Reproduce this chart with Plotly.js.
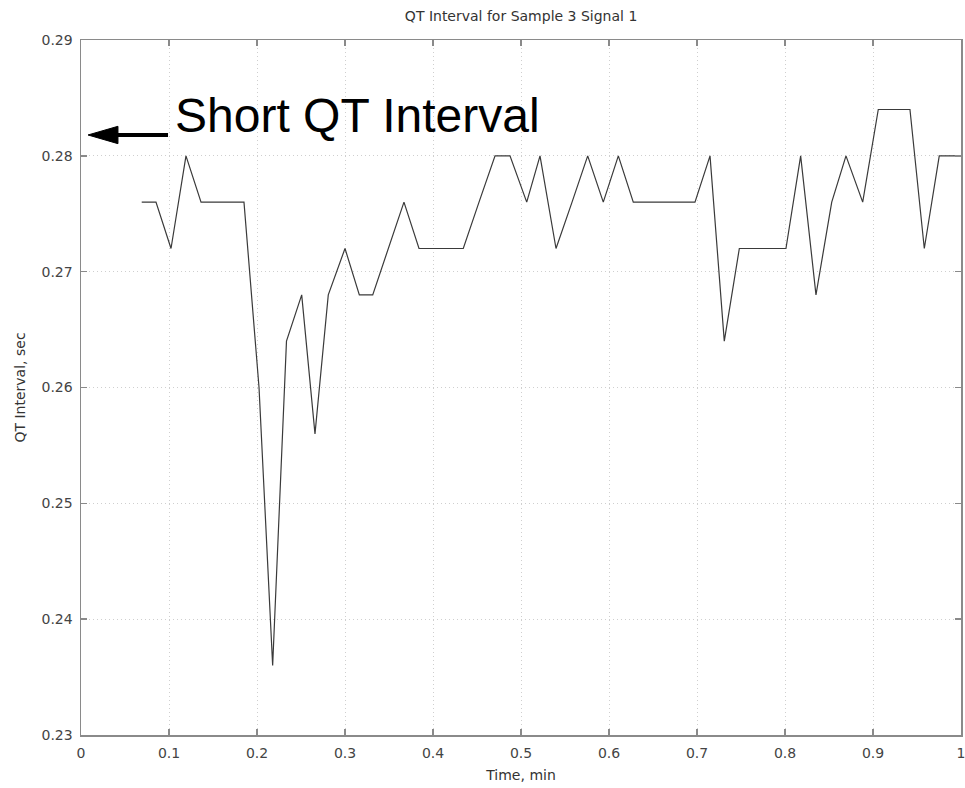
<!DOCTYPE html>
<html>
<head>
<meta charset="utf-8">
<script src="https://cdn.plot.ly/plotly-3.0.1.min.js"></script>
<style>html,body{margin:0;padding:0;background:#fff;}#chart{width:965px;height:788px;}</style>
</head>
<body>
<div id="chart"></div>
<script>
// Time, min
var timeMin = [0.0690, 0.0852, 0.1023, 0.1193, 0.1364, 0.1523, 0.1693, 0.1852, 0.2023, 0.2178,
  0.2335, 0.2508, 0.2659, 0.2810, 0.3000, 0.3163, 0.3315, 0.3489, 0.3670, 0.3841,
  0.4011, 0.4182, 0.4344, 0.4523, 0.4705, 0.4875, 0.5065, 0.5216, 0.5398, 0.5580,
  0.5758, 0.5935, 0.6106, 0.6276, 0.6443, 0.6625, 0.6795, 0.6977, 0.7148, 0.7310,
  0.7481, 0.7659, 0.7830, 0.8011, 0.8178, 0.8352, 0.8531, 0.8693, 0.8883, 0.9060,
  0.9239, 0.9420, 0.9583, 0.9753, 1.0000];
// QT interval, sec
var qtSec = [0.276, 0.276, 0.272, 0.280, 0.276, 0.276, 0.276, 0.276, 0.260, 0.236,
  0.264, 0.268, 0.256, 0.268, 0.272, 0.268, 0.268, 0.272, 0.276, 0.272,
  0.272, 0.272, 0.272, 0.276, 0.280, 0.280, 0.276, 0.280, 0.272, 0.276,
  0.280, 0.276, 0.280, 0.276, 0.276, 0.276, 0.276, 0.276, 0.280, 0.264,
  0.272, 0.272, 0.272, 0.272, 0.280, 0.268, 0.276, 0.280, 0.276, 0.284,
  0.284, 0.284, 0.272, 0.280, 0.280];
var xTicks = [0, 0.1, 0.2, 0.3, 0.4, 0.5, 0.6, 0.7, 0.8, 0.9, 1];
var xTickText = ['0', '0.1', '0.2', '0.3', '0.4', '0.5', '0.6', '0.7', '0.8', '0.9', '1'];
var yTicks = [0.23, 0.24, 0.25, 0.26, 0.27, 0.28, 0.29];
var yTickText = ['0.23', '0.24', '0.25', '0.26', '0.27', '0.28', '0.29'];

var smallFont = 'DejaVu Sans, sans-serif';
var bigFont = 'Liberation Sans, Arial, sans-serif';
var axisCommon = {
  showline: true, mirror: 'ticks', linecolor: '#8a8a8a', linewidth: 1.5,
  ticks: 'inside', ticklen: 6, tickcolor: '#8a8a8a', tickwidth: 1.5,
  showgrid: true, gridcolor: '#cfcfcf', griddash: '1px,3px', gridwidth: 1,
  zeroline: false, tickfont: {family: smallFont, size: 14, color: '#444'},
  tickmode: 'array', ticklabeloverflow: 'allow'
};

var trace = {
  x: timeMin, y: qtSec, type: 'scatter', mode: 'lines',
  line: {color: '#3a3a3a', width: 1.2}, hoverinfo: 'skip'
};

var layout = {
  width: 965, height: 788,
  paper_bgcolor: '#fff', plot_bgcolor: '#fff',
  margin: {l: 81, r: 4, t: 40, b: 53},
  showlegend: false,
  title: {text: 'QT Interval for Sample 3 Signal 1', font: {family: smallFont, size: 14, color: '#333'},
          x: 0.54, xanchor: 'center', y: 0.979, yanchor: 'middle'},
  xaxis: Object.assign({}, axisCommon, {
    range: [0, 1], tickvals: xTicks, ticktext: xTickText, ticklabelstandoff: 5,
    title: {text: 'Time, min', font: {family: smallFont, size: 14, color: '#333'}, standoff: 10}
  }),
  yaxis: Object.assign({}, axisCommon, {
    range: [0.23, 0.29], tickvals: yTicks, ticktext: yTickText, ticklabelstandoff: 4,
    title: {text: 'QT Interval, sec', font: {family: smallFont, size: 14, color: '#333'}, standoff: 12}
  }),
  annotations: [{
    xref: 'x', yref: 'y', x: 0.1045, y: 0.2835, xanchor: 'left', yanchor: 'middle',
    text: 'Short QT Interval', showarrow: false,
    font: {family: bigFont, size: 48, color: '#000'}
  }],
  shapes: [
    {type: 'line', xref: 'x', yref: 'y', x0: 0.035, y0: 0.2818, x1: 0.0989, y1: 0.2818,
     line: {color: '#000', width: 4}},
    {type: 'path', xref: 'x', yref: 'y',
     path: 'M 0.008 0.2818 L 0.042 0.28255 L 0.042 0.28105 Z',
     fillcolor: '#000', line: {color: '#000', width: 1}}
  ]
};

Plotly.newPlot('chart', [trace], layout, {displayModeBar: false, staticPlot: true});
</script>
</body>
</html>
